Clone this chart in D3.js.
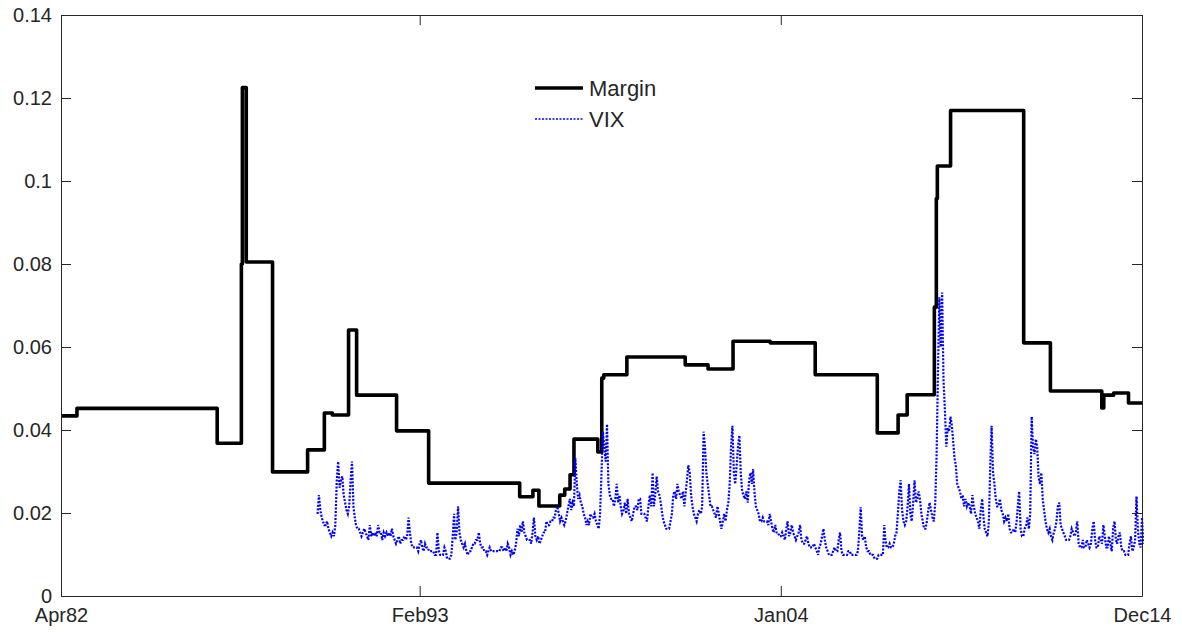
<!DOCTYPE html>
<html>
<head>
<meta charset="utf-8">
<script src="https://cdn.jsdelivr.net/npm/d3@7"></script>
<style>
  body { margin: 0; background: #fff; }
  text { font-family: "Liberation Sans", Arial, Helvetica, sans-serif; fill: #262626; }
</style>
</head>
<body>
<svg id="chart" width="1182" height="632"></svg>
<script>
// margin requirement: step changes (date the new level starts, level)
var marginDates = ["1982-04-01","1982-09-24","1986-12-20","1987-09-13","1987-09-24","1987-11-06",
  "1988-08-22","1989-09-13","1990-03-17","1990-06-13","1990-12-09","1991-03-08","1992-05-22",
  "1993-05-11","1996-02-10","1996-07-05","1996-09-09","1997-04-27","1997-06-21","1997-08-19",
  "1997-10-01","1998-06-21","1998-08-04","1998-08-26","1999-05-08","2001-02-10","2001-10-20",
  "2002-07-23","2003-09-06","2005-01-15","2006-12-01","2007-07-19","2007-10-27","2008-08-22",
  "2008-09-13","2008-09-24","2009-02-17","2011-05-05","2012-02-24","2013-09-13","2013-10-05",
  "2014-01-22","2014-07-05","2014-12-01"];
var marginValues = [0.0434,0.0452,0.0368,0.0800,0.1225,0.0805,
  0.0299,0.0352,0.0441,0.0436,0.0641,0.0484,0.0398,
  0.0272,0.0239,0.0255,0.0217,0.0243,0.0258,0.0292,
  0.0378,0.0347,0.0525,0.0533,0.0576,0.0557,0.0547,
  0.0614,0.0610,0.0533,0.0393,0.0436,0.0485,0.0696,
  0.0958,0.1036,0.1170,0.0610,0.0494,0.0453,0.0484,
  0.0489,0.0465,0.0465];

// VIX (scaled), two readings per month starting Jan 1990
var vixStart = 1990;
var vixValues = [
  .0198,.0243,.0207,.0189,.0180,.0171,.0171,.0180,.0162,.0153,.0144,.0153,.0144,.0171,.0279,.0324,.0261,.0279,.0288,.0243,.0225,.0207,.0198,.0216, // 1990
  .0279,.0324,.0216,.0189,.0171,.0162,.0162,.0153,.0144,.0153,.0162,.0153,.0144,.0135,.0171,.0144,.0153,.0144,.0153,.0144,.0171,.0153,.0153,.0135, // 1991
  .0153,.0144,.0153,.0144,.0153,.0144,.0162,.0144,.0135,.0126,.0135,.0144,.0126,.0135,.0135,.0144,.0135,.0144,.0189,.0153,.0126,.0117,.0117,.0117, // 1992
  .0117,.0108,.0126,.0135,.0117,.0108,.0126,.0117,.0117,.0108,.0108,.0108,.0108,.0099,.0099,.0153,.0108,.0099,.0099,.0099,.0117,.0108,.0090,.0090, // 1993
  .0090,.0099,.0144,.0198,.0135,.0153,.0216,.0153,.0135,.0126,.0117,.0126,.0108,.0099,.0108,.0108,.0117,.0126,.0126,.0135,.0135,.0153,.0126,.0117, // 1994
  .0117,.0108,.0108,.0099,.0108,.0117,.0108,.0108,.0108,.0108,.0108,.0108,.0108,.0117,.0117,.0108,.0117,.0108,.0126,.0117,.0099,.0108,.0099,.0108, // 1995
  .0126,.0162,.0144,.0171,.0153,.0180,.0153,.0144,.0135,.0135,.0135,.0126,.0153,.0189,.0144,.0135,.0144,.0126,.0135,.0144,.0153,.0153,.0180,.0171, // 1996
  .0171,.0180,.0180,.0189,.0189,.0207,.0216,.0198,.0180,.0189,.0180,.0171,.0180,.0198,.0216,.0234,.0207,.0225,.0216,.0333,.0270,.0234,.0243,.0225, // 1997
  .0216,.0198,.0189,.0171,.0180,.0171,.0198,.0189,.0189,.0198,.0180,.0171,.0162,.0198,.0297,.0396,.0360,.0324,.0414,.0270,.0243,.0234,.0234,.0216, // 1998
  .0234,.0270,.0225,.0243,.0216,.0198,.0207,.0225,.0198,.0234,.0198,.0189,.0180,.0198,.0216,.0216,.0207,.0234,.0234,.0198,.0198,.0198,.0189,.0180, // 1999
  .0216,.0243,.0216,.0297,.0216,.0243,.0288,.0252,.0243,.0225,.0198,.0180,.0171,.0162,.0162,.0162,.0180,.0198,.0243,.0252,.0234,.0270,.0252,.0243, // 2000
  .0234,.0252,.0216,.0252,.0279,.0315,.0297,.0243,.0216,.0198,.0189,.0180,.0198,.0207,.0198,.0216,.0396,.0360,.0297,.0270,.0243,.0216,.0216,.0207, // 2001
  .0198,.0189,.0216,.0198,.0180,.0162,.0180,.0198,.0180,.0207,.0225,.0270,.0360,.0410,.0297,.0270,.0315,.0360,.0387,.0297,.0252,.0243,.0234,.0252, // 2002
  .0225,.0279,.0297,.0270,.0306,.0252,.0216,.0207,.0198,.0180,.0180,.0189,.0180,.0180,.0180,.0171,.0198,.0180,.0162,.0153,.0171,.0153,.0153,.0144, // 2003
  .0144,.0153,.0144,.0135,.0162,.0180,.0144,.0153,.0171,.0153,.0144,.0135,.0144,.0153,.0171,.0135,.0126,.0126,.0135,.0144,.0126,.0117,.0117,.0117, // 2004
  .0126,.0117,.0108,.0099,.0117,.0126,.0144,.0162,.0135,.0117,.0108,.0099,.0099,.0099,.0108,.0117,.0108,.0108,.0135,.0153,.0108,.0099,.0099,.0099, // 2005
  .0099,.0108,.0108,.0099,.0099,.0099,.0099,.0099,.0108,.0153,.0214,.0144,.0135,.0144,.0117,.0108,.0108,.0099,.0099,.0099,.0090,.0090,.0090,.0099, // 2006
  .0099,.0099,.0099,.0171,.0135,.0117,.0117,.0126,.0117,.0117,.0126,.0144,.0153,.0198,.0252,.0279,.0207,.0180,.0171,.0180,.0216,.0270,.0198,.0180, // 2007
  .0225,.0279,.0225,.0234,.0252,.0234,.0198,.0180,.0162,.0162,.0180,.0207,.0225,.0207,.0189,.0180,.0225,.0342,.0540,.0720,.0600,.0731,.0520,.0450, // 2008
  .0360,.0405,.0396,.0432,.0414,.0378,.0333,.0315,.0270,.0261,.0252,.0234,.0243,.0216,.0234,.0216,.0225,.0216,.0198,.0243,.0216,.0198,.0189,.0180, // 2009
  .0162,.0207,.0234,.0189,.0162,.0153,.0144,.0180,.0315,.0410,.0297,.0270,.0234,.0216,.0216,.0234,.0207,.0198,.0180,.0189,.0180,.0198,.0162,.0153, // 2010
  .0153,.0162,.0153,.0180,.0216,.0252,.0162,.0144,.0144,.0162,.0171,.0189,.0162,.0198,.0432,.0360,.0342,.0378,.0360,.0288,.0270,.0297,.0234,.0207, // 2011
  .0180,.0162,.0153,.0162,.0144,.0135,.0153,.0162,.0180,.0216,.0225,.0171,.0162,.0153,.0144,.0135,.0135,.0135,.0144,.0162,.0153,.0144,.0153,.0180, // 2012
  .0126,.0117,.0117,.0135,.0117,.0117,.0135,.0126,.0117,.0126,.0162,.0180,.0135,.0117,.0117,.0144,.0135,.0126,.0171,.0144,.0117,.0117,.0144,.0126, // 2013
  .0108,.0162,.0180,.0135,.0126,.0144,.0153,.0117,.0108,.0108,.0099,.0099,.0099,.0126,.0144,.0108,.0117,.0135,.0240,.0162,.0126,.0117,.0189,.0126  // 2014
];

var xTickDates = ["1982-04-01","1993-02-01","2004-01-01","2014-12-01"];
var xTickLabels = ["Apr82","Feb93","Jan04","Dec14"];
var yTicks = [0,0.02,0.04,0.06,0.08,0.1,0.12,0.14];

var parse = d3.timeParse("%Y-%m-%d");

var padL = 61, padT = 15, w = 1081, h = 581;
var svg = d3.select("#chart");
var g = svg.append("g").attr("transform", "translate(" + padL + "," + padT + ")");

var x = d3.scaleTime()
  .domain([parse(xTickDates[0]), parse(xTickDates[xTickDates.length - 1])])
  .range([0, w]);
var y = d3.scaleLinear().domain([0, 0.14]).range([h, 0]);

g.append("clipPath").attr("id", "clip")
  .append("rect").attr("x", -2).attr("width", w + 4).attr("height", h);

var margin = marginDates.map(function(d, i){ return {date: parse(d), v: marginValues[i]}; });
var vix = vixValues.map(function(v, i){
  return {date: new Date(vixStart + Math.floor(i / 24), Math.floor((i % 24) / 2), i % 2 ? 16 : 1), v: v};
});

var lineStep = d3.line()
  .x(function(d){ return x(d.date); })
  .y(function(d){ return y(d.v); })
  .curve(d3.curveStepAfter);
var line = d3.line()
  .x(function(d){ return x(d.date); })
  .y(function(d){ return y(d.v); });

var plot = g.append("g").attr("clip-path", "url(#clip)");

plot.append("path").datum(margin)
  .attr("d", lineStep)
  .attr("fill", "none")
  .attr("stroke", "#000")
  .attr("stroke-width", 3.6)
  .attr("stroke-linejoin", "round");

plot.append("path").datum(vix)
  .attr("d", line)
  .attr("fill", "none")
  .attr("stroke", "#0000ff")
  .attr("stroke-width", 2.2)
  .attr("stroke-dasharray", "2,1.5");

// axes, MATLAB style box with inward ticks
var tickDates = xTickDates.map(parse);
var xAxis = d3.axisBottom(x).tickValues(tickDates)
  .tickFormat(function(d, i){ return xTickLabels[i]; })
  .tickSizeInner(-10).tickSizeOuter(0).tickPadding(12);
var yAxis = d3.axisLeft(y).tickValues(yTicks)
  .tickFormat(function(d){ return d === 0 ? "0" : String(+d.toFixed(2)); })
  .tickSizeInner(-10).tickSizeOuter(0).tickPadding(9);

g.append("g").attr("transform", "translate(0," + h + ")").call(xAxis);
g.append("g").call(yAxis);
g.append("g").call(d3.axisTop(x).tickValues(tickDates).tickFormat("").tickSizeInner(-10).tickSizeOuter(0));
g.append("g").attr("transform", "translate(" + w + ",0)")
  .call(d3.axisRight(y).tickValues(yTicks).tickFormat("").tickSizeInner(-10).tickSizeOuter(0));

g.selectAll(".domain, .tick line").attr("stroke", "#262626").attr("stroke-width", 1);
g.selectAll(".tick text").attr("font-size", 20).style("font-family", "'Liberation Sans', Arial, sans-serif").attr("fill", "#262626");

// legend
var legend = svg.append("g");
var items = [
  {name: "Margin", color: "#000", width: 3.6, dash: null},
  {name: "VIX", color: "#0000ff", width: 1.6, dash: "2,1.5"}
];
items.forEach(function(it, i){
  var ly = 88 + i * 31;
  legend.append("line")
    .attr("x1", 535).attr("x2", 583).attr("y1", ly).attr("y2", ly)
    .attr("stroke", it.color).attr("stroke-width", it.width)
    .attr("stroke-dasharray", it.dash);
  legend.append("text")
    .attr("x", 589).attr("y", ly + 8)
    .attr("font-size", 22)
    .text(it.name);
});
</script>
</body>
</html>
